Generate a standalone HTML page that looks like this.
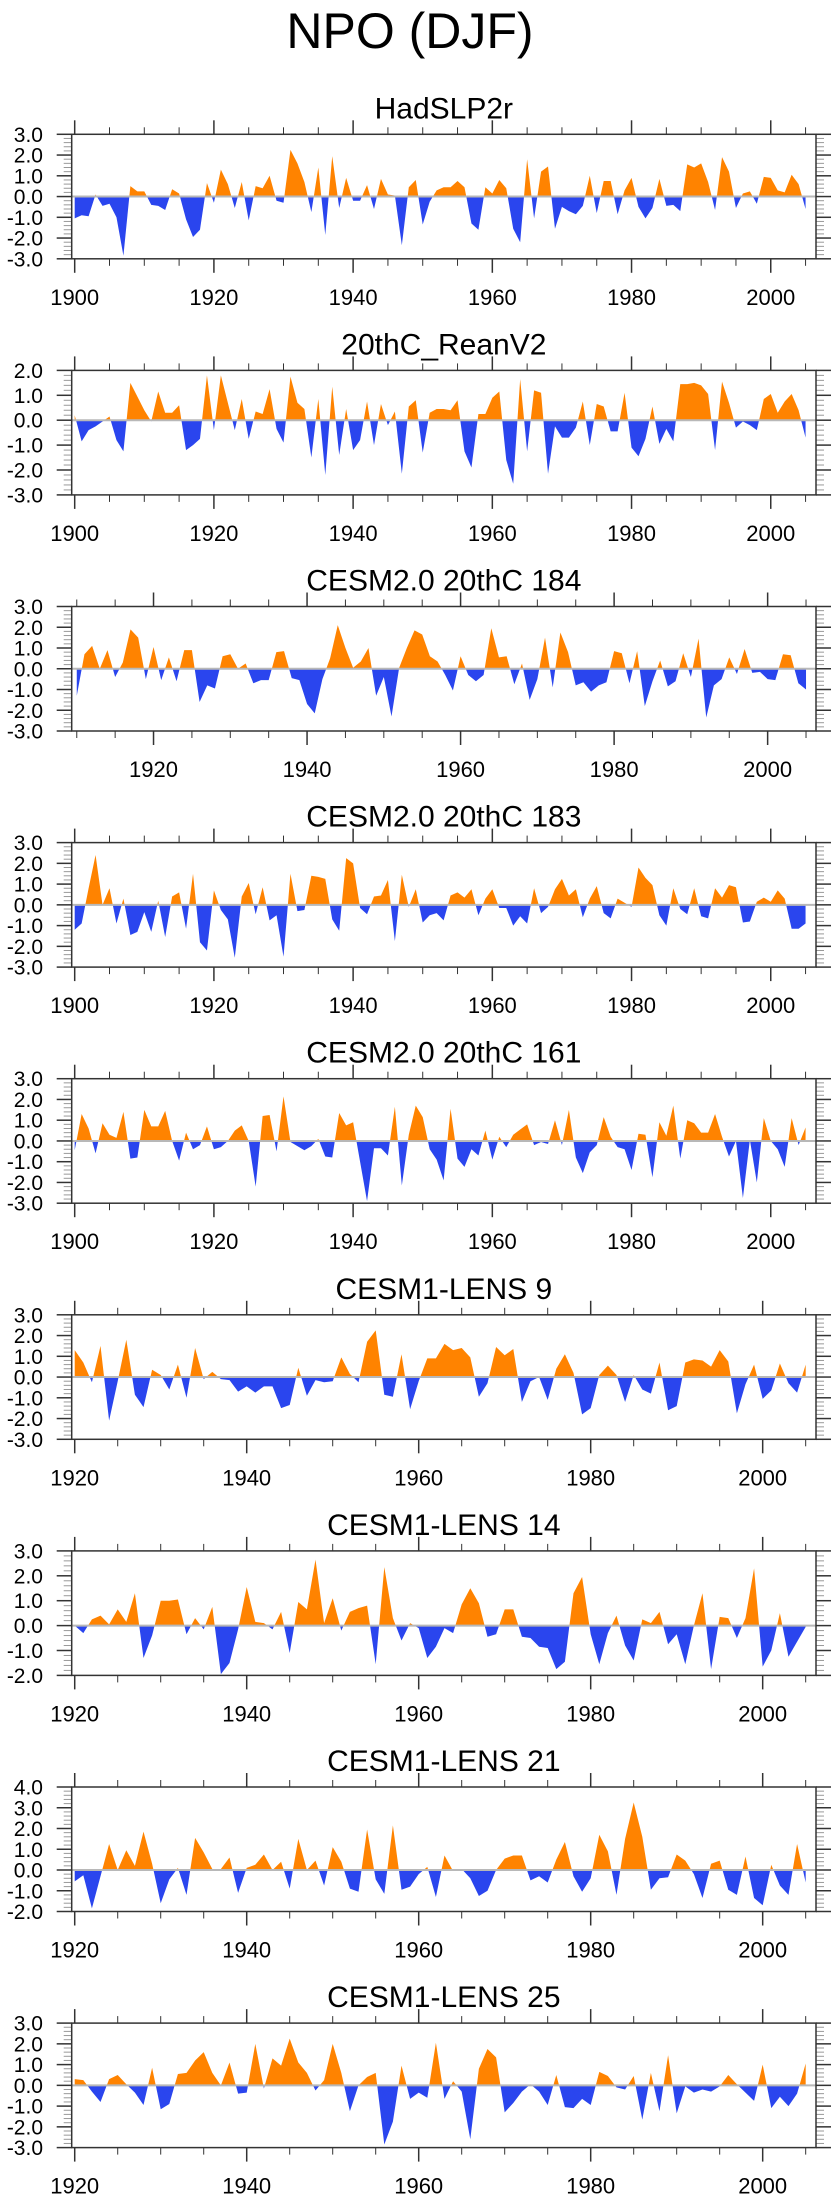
<!DOCTYPE html>
<html><head><meta charset="utf-8"><style>
html,body{margin:0;padding:0;background:#fff;}
svg{display:block;font-family:"Liberation Sans",Arial,sans-serif;}
</style></head><body>
<svg id="chart" width="840" height="2200" viewBox="0 0 840 2200">
<text x="410" y="48" font-size="50" text-anchor="middle">NPO (DJF)</text>
</svg>
<script>
const titles = ["HadSLP2r","20thC_ReanV2","CESM2.0 20thC 184","CESM2.0 20thC 183","CESM2.0 20thC 161","CESM1-LENS 9","CESM1-LENS 14","CESM1-LENS 21","CESM1-LENS 25"];
const startYears = [1900,1900,1910,1900,1900,1920,1920,1920,1920];
const yMins = [-3,-3,-3,-3,-3,-3,-2,-2,-3];
const yMaxs = [3,2,3,3,3,3,3,4,3];
const xMins = [1899.57,1899.57,1909.34,1899.57,1899.57,1919.65,1919.65,1919.65,1919.65];
const xMaxs = [2006.5,2006.5,2006.3,2006.5,2006.5,2006.2,2006.2,2006.2,2006.2];

const hadslp2r = [-1.05,-0.9,-0.95,0.1,-0.45,-0.35,-1.0,-2.85,0.5,0.25,0.25,-0.4,-0.45,-0.65,0.35,0.15,-1.1,-1.95,-1.6,0.65,-0.3,1.3,0.6,-0.55,0.7,-1.15,0.5,0.4,1.0,-0.2,-0.3,2.25,1.6,0.7,-0.75,1.4,-1.85,1.95,-0.55,0.9,-0.2,-0.2,0.55,-0.6,0.85,0.1,0.05,-2.35,0.45,0.8,-1.35,-0.25,0.3,0.45,0.45,0.75,0.45,-1.3,-1.6,0.45,0.15,0.8,0.4,-1.55,-2.2,1.8,-1.05,1.2,1.45,-1.55,-0.5,-0.7,-0.85,-0.45,1.0,-0.8,0.75,0.75,-0.85,0.3,0.9,-0.5,-1.05,-0.55,0.85,-0.45,-0.4,-0.7,1.55,1.4,1.6,0.7,-0.65,1.9,1.2,-0.55,0.15,0.25,-0.35,0.95,0.9,0.3,0.2,1.05,0.6,-0.6];
const reanV2 = [0.2,-0.85,-0.4,-0.25,-0.05,0.15,-0.8,-1.25,1.5,0.95,0.4,-0.05,1.15,0.3,0.3,0.6,-1.2,-1.0,-0.75,1.8,-0.4,1.8,0.7,-0.4,0.85,-0.75,0.35,0.25,1.25,-0.35,-0.9,1.75,0.7,0.45,-1.5,0.85,-2.2,1.35,-1.4,0.45,-1.2,-0.8,0.75,-1.0,0.65,-0.2,0.35,-2.15,0.55,0.8,-1.3,0.3,0.45,0.45,0.4,0.8,-1.25,-1.9,0.25,0.25,0.9,1.15,-1.6,-2.55,1.65,-1.25,1.2,1.1,-2.15,-0.25,-0.7,-0.7,-0.3,0.75,-1.0,0.65,0.55,-0.45,-0.45,1.1,-1.1,-1.45,-0.75,0.55,-0.95,-0.35,-0.85,1.45,1.45,1.5,1.4,1.05,-1.2,1.55,0.7,-0.3,-0.05,-0.2,-0.4,0.85,1.05,0.3,0.75,1.05,0.4,-0.7];
const cesm2_184 = [-1.3,0.7,1.1,0.0,0.9,-0.4,0.3,1.9,1.5,-0.5,1.05,-0.55,0.55,-0.6,0.9,0.9,-1.6,-0.8,-0.95,0.6,0.7,0.0,0.25,-0.7,-0.55,-0.55,0.8,0.85,-0.45,-0.55,-1.7,-2.15,-0.5,0.5,2.1,1.0,0.05,0.35,1.0,-1.3,-0.4,-2.3,0.05,1.0,1.85,1.65,0.6,0.35,-0.3,-1.05,0.6,-0.3,-0.6,-0.3,1.95,0.55,0.6,-0.75,0.25,-1.5,-0.5,1.5,-0.9,1.75,0.8,-0.8,-0.65,-1.1,-0.8,-0.65,0.85,0.75,-0.7,0.85,-1.8,-0.6,0.4,-0.85,-0.6,0.75,-0.4,1.45,-2.35,-0.8,-0.5,0.55,-0.25,0.95,-0.2,-0.15,-0.5,-0.55,0.7,0.65,-0.7,-1.0];
const cesm2_183 = [-1.2,-0.9,0.8,2.4,0.0,0.8,-0.9,0.3,-1.45,-1.3,-0.35,-1.3,0.2,-1.55,0.4,0.6,-1.15,1.5,-1.8,-2.2,0.7,-0.25,-0.7,-2.55,0.4,1.05,-0.45,0.85,-0.75,-0.5,-2.5,1.5,-0.3,-0.25,1.4,1.35,1.25,-0.7,-1.25,2.25,2.0,-0.15,-0.45,0.4,0.45,1.2,-1.75,1.45,-0.1,0.75,-0.85,-0.5,-0.4,-0.75,0.45,0.6,0.35,0.75,-0.5,0.3,0.75,-0.15,-0.15,-1.0,-0.55,-0.9,0.8,-0.4,-0.1,0.75,1.25,0.45,0.75,-0.6,0.3,0.9,-0.4,-0.65,0.3,0.1,-0.1,1.8,1.3,0.95,-0.5,-1.0,0.8,-0.2,-0.45,0.8,-0.55,-0.65,0.8,0.35,0.95,0.85,-0.85,-0.8,0.15,0.35,0.15,0.7,0.3,-1.15,-1.15,-0.9];
const cesm2_161 = [-0.45,1.3,0.6,-0.6,0.85,0.3,0.15,1.4,-0.85,-0.8,1.5,0.7,0.7,1.45,0.0,-0.95,0.4,-0.4,-0.2,0.7,-0.4,-0.3,0.0,0.5,0.75,0.0,-2.2,1.2,1.25,-0.5,2.15,-0.05,-0.25,-0.45,-0.25,0.1,-0.75,-0.8,1.35,0.75,0.9,-1.0,-2.9,-0.35,-0.35,-0.7,1.65,-2.15,0.3,1.7,1.15,-0.4,-0.9,-1.9,1.55,-0.85,-1.25,-0.4,-0.7,0.5,-0.9,0.2,-0.3,0.3,0.55,0.8,-0.2,-0.05,-0.15,1.0,-0.2,1.5,-0.8,-1.55,-0.55,-0.2,1.15,0.2,-0.3,-0.4,-1.4,0.35,0.3,-1.75,0.9,0.25,1.7,-0.85,1.0,0.85,0.4,0.4,1.3,0.2,-0.75,0.0,-2.75,0.05,-2.0,1.1,0.0,-0.4,-1.25,1.1,-0.2,0.65];
const lens9 = [1.3,0.7,-0.25,1.5,-2.1,-0.2,1.8,-0.85,-1.45,0.35,0.1,-0.6,0.6,-1.0,1.4,-0.1,0.25,-0.1,-0.15,-0.7,-0.45,-0.75,-0.45,-0.45,-1.5,-1.35,0.45,-0.9,-0.15,-0.25,-0.2,0.95,0.15,-0.25,1.7,2.25,-0.85,-0.95,1.1,-1.55,-0.2,0.9,0.9,1.6,1.3,1.4,0.95,-0.95,-0.3,1.45,1.05,1.35,-1.2,-0.2,0.0,-1.1,0.4,1.1,0.2,-1.8,-1.5,0.1,0.55,0.1,-1.2,0.1,-0.6,-0.8,0.7,-1.6,-1.4,0.7,0.85,0.8,0.5,1.3,0.75,-1.75,-0.35,0.6,-1.05,-0.65,0.65,-0.3,-0.75,0.6];
const lens14 = [0.0,-0.3,0.25,0.4,0.05,0.65,0.15,1.3,-1.3,-0.4,1.0,1.0,1.05,-0.35,0.3,-0.15,0.75,-1.95,-1.5,-0.15,1.55,0.15,0.1,-0.15,0.55,-1.1,0.95,0.65,2.65,0.1,1.1,-0.2,0.55,0.7,0.8,-1.55,2.35,0.3,-0.6,0.1,-0.1,-1.3,-0.85,-0.1,-0.3,0.85,1.5,0.9,-0.45,-0.35,0.65,0.65,-0.45,-0.5,-0.85,-0.9,-1.75,-1.45,1.3,1.95,-0.35,-1.55,-0.3,0.4,-0.8,-1.4,0.25,0.1,0.55,-0.75,-0.35,-1.55,0.0,1.3,-1.75,0.35,0.3,-0.5,0.3,2.3,-1.65,-1.0,0.5,-1.25,-0.65,-0.05];
const lens21 = [-0.55,-0.25,-1.85,-0.3,1.25,0.0,0.95,0.2,1.85,0.3,-1.6,-0.45,0.1,-1.2,1.55,0.85,0.05,0.05,0.6,-1.1,0.1,0.25,0.75,0.0,0.4,-0.9,1.5,0.0,0.45,-0.75,1.1,0.4,-0.9,-1.05,1.95,-0.45,-1.15,2.15,-0.95,-0.8,-0.2,0.15,-1.3,0.7,-0.05,0.05,-0.4,-1.25,-1.0,0.0,0.55,0.7,0.7,-0.5,-0.3,-0.6,0.5,1.35,-0.3,-1.05,-0.4,1.7,0.9,-1.2,1.5,3.25,1.6,-0.95,-0.4,-0.35,0.75,0.45,-0.2,-1.35,0.3,0.45,-0.95,-1.2,0.65,-1.35,-1.7,0.25,-0.75,-1.2,1.25,-0.6];
const lens25 = [0.3,0.25,-0.3,-0.8,0.3,0.5,0.05,-0.35,-0.95,0.85,-1.15,-0.9,0.55,0.6,1.2,1.6,0.6,0.0,1.1,-0.4,-0.35,2.0,-0.15,1.3,0.95,2.25,1.1,0.6,-0.25,0.25,2.0,0.6,-1.25,0.0,0.4,0.6,-2.85,-1.75,0.95,-0.65,-0.35,-0.6,2.05,-0.65,0.2,-0.3,-2.6,0.8,1.75,1.35,-1.3,-0.85,-0.3,0.05,-0.3,-0.95,0.5,-1.05,-1.1,-0.65,-0.95,0.65,0.45,-0.1,-0.2,0.45,-1.65,0.6,-1.25,1.45,-1.35,-0.05,-0.35,-0.2,-0.3,-0.05,0.5,0.05,-0.35,-0.75,1.0,-1.1,-0.55,-1.0,-0.4,1.05];

const seriesList = [hadslp2r, reanV2, cesm2_184, cesm2_183, cesm2_161, lens9, lens14, lens21, lens25];
const panelNames = ['hadslp2r','20thc-reanv2','cesm2-184','cesm2-183','cesm2-161','cesm1-lens-9','cesm1-lens-14','cesm1-lens-21','cesm1-lens-25'];

const NS = 'http://www.w3.org/2000/svg';
const svg = document.getElementById('chart');
function mk(tag, attrs, parent) {
  const e = document.createElementNS(NS, tag);
  for (const k in attrs) e.setAttribute(k, attrs[k]);
  parent.appendChild(e);
  return e;
}
const BOX_L = 71.7, BOX_R = 816, BOX_H = 124.5;
const defs = mk('defs', {}, svg);

for (let p = 0; p < 9; p++) {
  const top = 134.3 + 236.1 * p, bot = top + BOX_H;
  const yMin = yMins[p], yMax = yMaxs[p], xMin = xMins[p], xMax = xMaxs[p];
  const xs = y => BOX_L + (y - xMin) / (xMax - xMin) * (BOX_R - BOX_L);
  const ys = v => bot - (v - yMin) / (yMax - yMin) * BOX_H;
  const g = mk('g', {}, svg);
  
  

  const t = mk('text', {x: (BOX_L + BOX_R) / 2, y: top - 16, 'font-size': 30, 'text-anchor': 'middle'}, g);
  t.textContent = titles[p];
  
  

  const z = ys(0);
  const cpA = 'clipA' + p, cpB = 'clipB' + p;
  const c1 = mk('clipPath', {id: cpA}, defs);
  mk('rect', {x: BOX_L, y: top, width: BOX_R - BOX_L, height: z - top}, c1);
  const c2 = mk('clipPath', {id: cpB}, defs);
  mk('rect', {x: BOX_L, y: z, width: BOX_R - BOX_L, height: bot - z}, c2);

  const vals = seriesList[p];
  const sy = startYears[p];
  let pts = xs(sy).toFixed(2) + ',' + z.toFixed(2) + ' ';
  vals.forEach((v, i) => { pts += xs(sy + i).toFixed(2) + ',' + ys(v).toFixed(2) + ' '; });
  pts += xs(sy + vals.length - 1).toFixed(2) + ',' + z.toFixed(2);

  const pos = mk('polygon', {points: pts, fill: '#ff8300', 'clip-path': 'url(#' + cpA + ')'}, g);
  
  
  const neg = mk('polygon', {points: pts, fill: '#2a45ee', 'clip-path': 'url(#' + cpB + ')'}, g);
  
  

  const zl = mk('line', {x1: BOX_L, x2: BOX_R, y1: z, y2: z, stroke: '#b8b8b8', 'stroke-width': 2}, g);
  
  

  for (let k = 0; k <= Math.round((yMax - yMin) * 5); k++) {
    const v = yMin + k * 0.2;
    const y = ys(v);
    const major = Math.abs(v - Math.round(v)) < 1e-6;
    const len = major ? 15 : 8;
    mk('line', {x1: BOX_L - len, x2: BOX_L, y1: y, y2: y, stroke: major ? '#333' : '#999', 'stroke-width': major ? 1.5 : 1}, g);
    mk('line', {x1: BOX_R, x2: BOX_R + len, y1: y, y2: y, stroke: major ? '#333' : '#999', 'stroke-width': major ? 1.5 : 1}, g);
    if (major) {
      const lab = mk('text', {x: 43, y: y + 7.5, 'font-size': 21, 'text-anchor': 'end'}, g);
      lab.textContent = (Math.round(v)).toFixed(1);
      
      
    }
  }
  for (let yr = 1900; yr <= 2005; yr += 5) {
    if (yr < xMin || yr > xMax) continue;
    const x = xs(yr);
    const major = yr % 20 === 0;
    const len = major ? 14 : 7;
    mk('line', {x1: x, x2: x, y1: top - len, y2: top, stroke: '#333', 'stroke-width': major ? 1.5 : 1}, g);
    mk('line', {x1: x, x2: x, y1: bot, y2: bot + len, stroke: '#333', 'stroke-width': major ? 1.5 : 1}, g);
    if (major) {
      const lab = mk('text', {x: x, y: bot + 46, 'font-size': 22, 'text-anchor': 'middle'}, g);
      lab.textContent = String(yr);
      
      
    }
  }
  const box = mk('rect', {x: BOX_L, y: top, width: BOX_R - BOX_L, height: BOX_H, fill: 'none', stroke: '#333', 'stroke-width': 1.5}, g);
  
  
}
</script>
</body></html>
